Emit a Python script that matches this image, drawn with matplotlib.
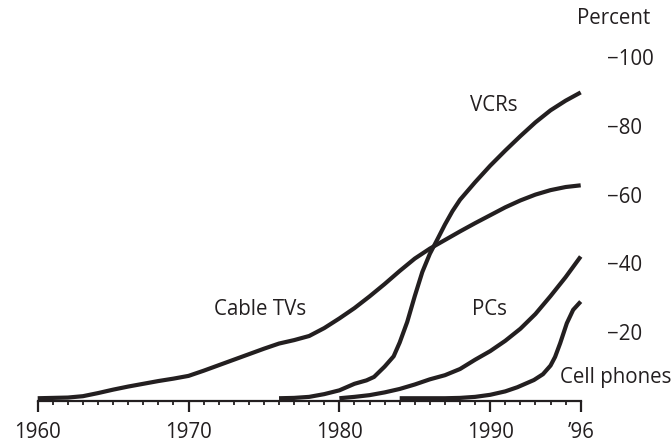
import matplotlib
matplotlib.use("Agg")
import matplotlib.pyplot as plt
from matplotlib.ticker import FixedLocator, MultipleLocator

# household penetration, percent
cable_years = [1960, 1961, 1962, 1963, 1964, 1965, 1966, 1967, 1968, 1969, 1970,
               1971, 1972, 1973, 1974, 1975, 1976, 1977, 1978, 1979, 1980,
               1981, 1982, 1983, 1984, 1985, 1986, 1987, 1988, 1989, 1990,
               1991, 1992, 1993, 1994, 1995, 1996]
cable_pct = [0.8, 0.9, 1.0, 1.4, 2.3, 3.3, 4.2, 5.0, 5.8, 6.5, 7.3,
             8.8, 10.4, 12.0, 13.6, 15.2, 16.7, 17.7, 18.9, 21.2, 24.0,
             27.0, 30.4, 34.0, 37.8, 41.4, 44.3, 46.8, 49.3, 51.7, 54.0,
             56.3, 58.3, 60.0, 61.3, 62.2, 62.7]

vcr_years = [1976, 1977, 1978, 1979, 1980, 1981, 1981.8, 1982.3, 1983, 1983.6,
             1984, 1984.5, 1985, 1985.5, 1986, 1986.5, 1987, 1987.5, 1988,
             1989, 1990, 1991, 1992, 1993, 1994, 1995, 1996]
vcr_pct = [0.8, 0.9, 1.2, 2.0, 3.1, 5.0, 6.0, 7.0, 10.0, 13.0,
           17.0, 23.0, 30.5, 37.5, 42.8, 47.0, 51.3, 55.2, 58.5,
           63.6, 68.4, 72.8, 77.0, 81.0, 84.5, 87.3, 89.7]

pc_years = [1980, 1981, 1982, 1983, 1984, 1985, 1986, 1987, 1988, 1989, 1990,
            1991, 1992, 1993, 1994, 1995, 1996]
pc_pct = [0.8, 1.2, 1.7, 2.5, 3.5, 4.8, 6.3, 7.5, 9.3, 12.0, 14.5,
          17.5, 21.0, 25.3, 30.5, 36.0, 42.0]

cell_years = [1984, 1985, 1986, 1987, 1988, 1989, 1990, 1991, 1991.8, 1992.9,
              1993.5, 1994.0, 1994.3, 1994.64, 1995.08, 1995.5, 1996]
cell_pct = [0.8, 0.8, 0.8, 0.8, 0.9, 1.2, 1.8, 2.8, 4.0, 6.1,
            7.8, 10.3, 12.8, 16.8, 22.6, 26.5, 28.9]

major_years = [1960, 1970, 1980, 1990, 1996]
major_labels = ["1960", "1970", "1980", "1990", "\u201996"]
pct_ticks = [20, 40, 60, 80, 100]

ink = "#231f20"
plt.rcParams["font.family"] = ["Open Sans", "DejaVu Sans"]
fs = 14.8

fig = plt.figure(figsize=(6.71, 4.44), dpi=100)
ax = fig.add_axes([0.05618, 0.09685, 0.80924, 0.77477])

for xs, ys in [(cable_years, cable_pct), (vcr_years, vcr_pct),
               (pc_years, pc_pct), (cell_years, cell_pct)]:
    ax.plot(xs, ys, color=ink, lw=3, solid_capstyle="butt",
            solid_joinstyle="round", clip_on=False)

ax.set_xlim(1960, 1996)
ax.set_ylim(0, 100)

for s in ["top", "left", "right"]:
    ax.spines[s].set_visible(False)
ax.spines["bottom"].set_linewidth(1.6)
ax.spines["bottom"].set_color(ink)

ax.xaxis.set_major_locator(FixedLocator(major_years))
ax.set_xticklabels(major_labels)
ax.xaxis.set_minor_locator(MultipleLocator(1))
ax.tick_params(axis="x", which="major", length=8, width=1.6, color=ink,
               pad=7, labelsize=fs, labelcolor=ink)
ax.tick_params(axis="x", which="minor", length=3, width=1.3, color=ink)

ax.yaxis.tick_right()
ax.set_yticks(pct_ticks)
ax.set_yticklabels(["\u2212" + str(v) for v in pct_ticks])
ax.tick_params(axis="y", length=0, pad=19, labelsize=fs, labelcolor=ink)

ax.text(1998.15, 111.3, "Percent", ha="center", va="center",
        fontsize=fs, color=ink, clip_on=False)
ax.text(1990.26, 86.0, "VCRs", ha="center", va="center", fontsize=fs, color=ink)
ax.text(1974.74, 26.7, "Cable TVs", ha="center", va="center", fontsize=fs, color=ink)
ax.text(1989.93, 26.5, "PCs", ha="center", va="center", fontsize=fs, color=ink)
ax.text(1994.64, 6.7, "Cell phones", ha="left", va="center", fontsize=fs,
        color=ink, clip_on=False)

fig.savefig("out.png", dpi=100)
